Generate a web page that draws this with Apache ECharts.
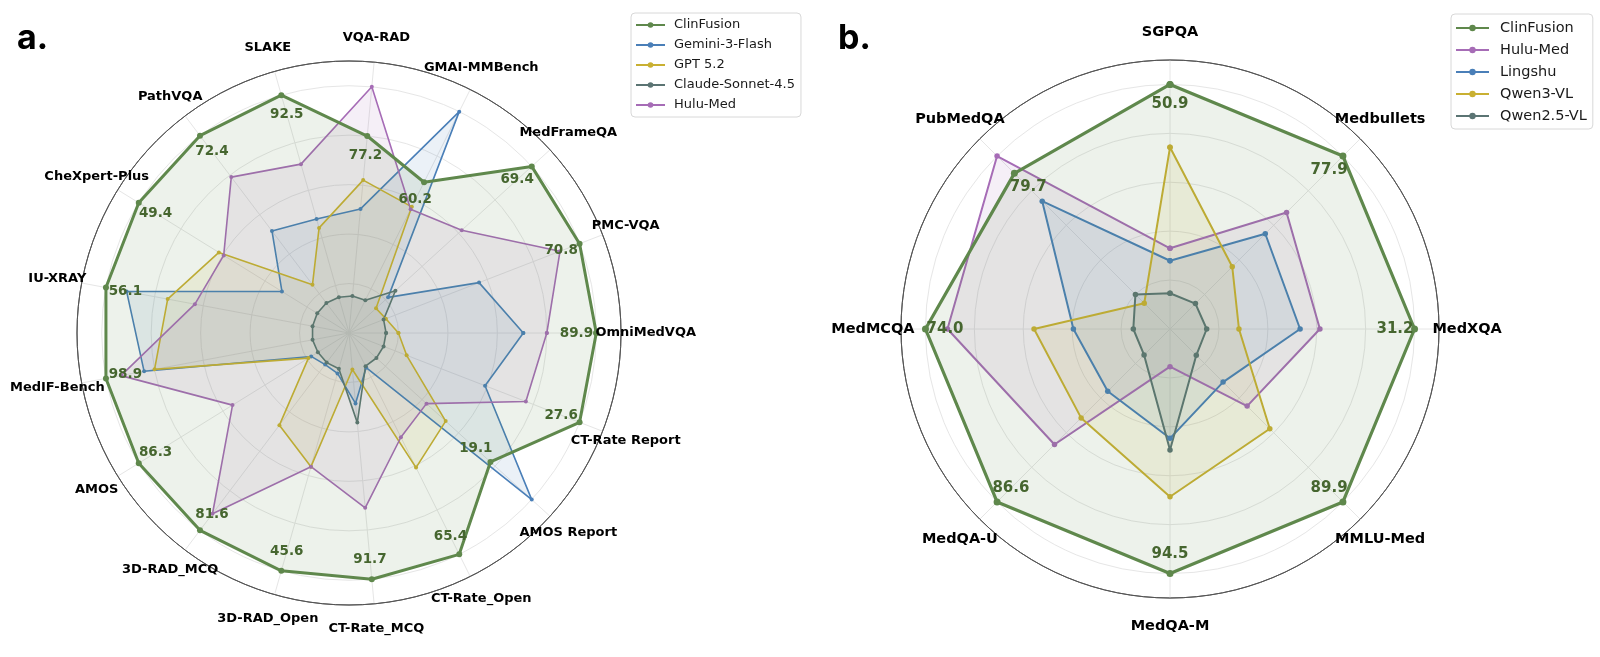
<!DOCTYPE html>
<html>
<head>
<meta charset="utf-8">
<script src="https://cdn.jsdelivr.net/npm/echarts@6/dist/echarts.min.js"></script>
<style>
html, body { margin: 0; padding: 0; background: #fff; }
#main { width: 1600px; height: 657px; }
</style>
</head>
<body>
<div id="main"></div>
<script>
// panel a: 17 benchmarks, listed counter-clockwise starting from the right-hand spoke
const leftCategories = ['OmniMedVQA', 'PMC-VQA', 'MedFrameQA', 'GMAI-MMBench', 'VQA-RAD', 'SLAKE', 'PathVQA',
  'CheXpert-Plus', 'IU-XRAY', 'MedIF-Bench', 'AMOS', '3D-RAD_MCQ', '3D-RAD_Open', 'CT-Rate_MCQ',
  'CT-Rate_Open', 'AMOS Report', 'CT-Rate Report'];
// normalised scores (best model = 1.0)
const leftClinFusion = [1.0, 1.0, 1.0, 0.681, 0.80, 1.0, 1.0, 1.0, 1.0, 1.0, 1.0, 1.0, 1.0, 1.0, 1.0, 0.774, 1.0];
const leftGemini = [0.705, 0.564, 0.214, 1.0, 0.504, 0.479, 0.517, 0.319, 0.915, 0.843, 0.18, 0.16, 0.17, 0.286, 0.156, 1.0, 0.59];
const leftGPT = [0.2, 0.16, 0.148, 0.57, 0.621, 0.442, 0.245, 0.619, 0.746, 0.80, 0.193, 0.467, 0.562, 0.148, 0.608, 0.529, 0.25];
const leftClaude = [0.15, 0.15, 0.254, 0.148, 0.15, 0.15, 0.152, 0.151, 0.15, 0.15, 0.148, 0.15, 0.15, 0.364, 0.15, 0.15, 0.15];
const leftHulu = [0.80, 0.915, 0.617, 0.559, 1.0, 0.71, 0.79, 0.596, 0.634, 0.938, 0.554, 0.916, 0.562, 0.71, 0.471, 0.424, 0.767];
// raw ClinFusion scores printed on the chart
const leftScoreLabels = ['89.9', '70.8', '69.4', '60.2', '77.2', '92.5', '72.4', '49.4', '56.1', '98.9',
  '86.3', '81.6', '45.6', '91.7', '65.4', '19.1', '27.6'];

// panel b: 8 benchmarks, counter-clockwise starting from the top spoke
const rightCategories = ['SGPQA', 'PubMedQA', 'MedMCQA', 'MedQA-U', 'MedQA-M', 'MMLU-Med', 'MedXQA', 'Medbullets'];
const rightClinFusion = [1.0, 0.90, 1.0, 1.0, 1.0, 1.0, 1.0, 1.0];
const rightHulu = [0.33, 1.0, 0.91, 0.668, 0.154, 0.446, 0.613, 0.674];
const rightLingshu = [0.279, 0.739, 0.395, 0.36, 0.447, 0.307, 0.532, 0.551];
const rightQwen3 = [0.743, 0.149, 0.556, 0.514, 0.686, 0.577, 0.282, 0.36];
const rightQwen25 = [0.146, 0.2, 0.15, 0.15, 0.495, 0.152, 0.15, 0.147];
const rightScoreLabels = ['50.9', '79.7', '74.0', '86.6', '94.5', '89.9', '31.2', '77.9'];

const GREEN = '#5f884c';
const BLUE = '#4a7fb8';
const YELLOW = '#c9b032';
const SLATE = '#5b7473';
const PURPLE = '#a66cb6';
const FONT = 'DejaVu Sans';

const leftStep = 360 / leftCategories.length;
const rightStep = 360 / rightCategories.length;

function closedPoints(vals, step) {
  const pts = vals.map((v, i) => [v, i * step]);
  pts.push([vals[0], 360]);
  return pts;
}

function radarLine(name, vals, step, polarIndex, color, width, size, z) {
  return {
    type: 'line', name: name, coordinateSystem: 'polar', polarIndex: polarIndex,
    data: closedPoints(vals, step),
    symbol: 'circle', symbolSize: size, showSymbol: true,
    lineStyle: { color: color, width: width },
    itemStyle: { color: color },
    areaStyle: { color: color, opacity: 0.11 },
    z: z, silent: true
  };
}

function textRing(items, step, polarIndex, style) {
  return {
    type: 'scatter', coordinateSystem: 'polar', polarIndex: polarIndex,
    data: items.map((it, i) => ({ name: it.text, value: [it.r, i * step] })),
    symbolSize: 1, itemStyle: { color: 'rgba(0,0,0,0)' },
    label: Object.assign({
      show: true, position: 'inside', formatter: p => p.name,
      textBorderWidth: 0, textShadowBlur: 0, opacity: 1
    }, style),
    clip: false, silent: true, z: 20
  };
}

const ringColors = ['#e6e6e6', '#e6e6e6', '#e6e6e6', '#e6e6e6', '#e6e6e6', '#e6e6e6', '#555'];

function angleAxis(polarIndex, step, start) {
  return {
    polarIndex: polarIndex, type: 'value', min: 0, max: 360, interval: step,
    startAngle: start, clockwise: false,
    axisLine: { lineStyle: { color: '#555', width: 1 } },
    axisTick: { show: false }, axisLabel: { show: false },
    splitLine: { lineStyle: { color: '#e6e6e6', width: 1 } }
  };
}

function radiusAxis(polarIndex) {
  return {
    polarIndex: polarIndex, type: 'value', min: 0, max: 1.1, interval: 0.2,
    axisLine: { show: false }, axisTick: { show: false }, axisLabel: { show: false },
    splitLine: { lineStyle: { color: ringColors, width: 1 } }
  };
}

const chart = echarts.init(document.getElementById('main'));

chart.setOption({
  animation: false,
  backgroundColor: '#fff',
  graphic: [
    { type: 'text', left: 17, top: 22, style: { text: 'a.', font: 'bold 34px Inter', fill: '#000' } },
    { type: 'text', left: 838, top: 22, style: { text: 'b.', font: 'bold 34px Inter', fill: '#000' } }
  ],
  polar: [
    { center: [349, 333], radius: 272 },
    { center: [1170, 329], radius: 269 }
  ],
  angleAxis: [angleAxis(0, leftStep, 0), angleAxis(1, rightStep, 90)],
  radiusAxis: [radiusAxis(0), radiusAxis(1)],
  legend: [
    {
      data: ['ClinFusion', 'Gemini-3-Flash', 'GPT 5.2', 'Claude-Sonnet-4.5', 'Hulu-Med'],
      orient: 'vertical', left: 631, top: 13, padding: [5, 6, 5, 4],
      itemGap: 6, itemWidth: 29, itemHeight: 7,
      textStyle: { fontFamily: FONT, fontSize: 13, color: '#1a1a1a', lineHeight: 14, padding: [0, 0, 0, 4] },
      borderColor: '#d8d8d8', borderWidth: 1, borderRadius: 4, backgroundColor: '#fff'
    },
    {
      data: ['ClinFusion', 'Hulu-Med', 'Lingshu', 'Qwen3-VL', 'Qwen2.5-VL'],
      orient: 'vertical', left: 1451, top: 14, padding: [6, 6, 5, 4],
      itemGap: 6, itemWidth: 33, itemHeight: 8,
      textStyle: { fontFamily: FONT, fontSize: 14.5, color: '#1a1a1a', lineHeight: 16, padding: [0, 0, 0, 6] },
      borderColor: '#d8d8d8', borderWidth: 1, borderRadius: 4, backgroundColor: '#fff'
    }
  ],
  series: [
    radarLine('Gemini-3-Flash', leftGemini, leftStep, 0, BLUE, 1.6, 4, 2),
    radarLine('GPT 5.2', leftGPT, leftStep, 0, YELLOW, 1.6, 4, 2),
    radarLine('Claude-Sonnet-4.5', leftClaude, leftStep, 0, SLATE, 1.6, 4, 2),
    radarLine('Hulu-Med', leftHulu, leftStep, 0, PURPLE, 1.6, 4, 2),
    radarLine('ClinFusion', leftClinFusion, leftStep, 0, GREEN, 3, 6, 3),
    textRing(leftCategories.map(c => ({ text: c, r: 1.2 })), leftStep, 0,
      { fontFamily: FONT, fontWeight: 'bold', fontSize: 13, color: '#000' }),
    textRing(leftScoreLabels.map((t, i) => ({ text: t, r: leftClinFusion[i] - 0.08 })), leftStep, 0,
      { fontFamily: FONT, fontWeight: 'bold', fontSize: 13.5, color: '#46662f' }),

    radarLine('Hulu-Med', rightHulu, rightStep, 1, PURPLE, 2, 5.5, 2),
    radarLine('Lingshu', rightLingshu, rightStep, 1, BLUE, 2, 5.5, 2),
    radarLine('Qwen3-VL', rightQwen3, rightStep, 1, YELLOW, 2, 5.5, 2),
    radarLine('Qwen2.5-VL', rightQwen25, rightStep, 1, SLATE, 2, 5.5, 2),
    radarLine('ClinFusion', rightClinFusion, rightStep, 1, GREEN, 3.2, 7, 3),
    textRing(rightCategories.map(c => ({ text: c, r: 1.215 })), rightStep, 1,
      { fontFamily: FONT, fontWeight: 'bold', fontSize: 14.5, color: '#000' }),
    textRing(rightScoreLabels.map((t, i) => ({ text: t, r: rightClinFusion[i] - 0.08 })), rightStep, 1,
      { fontFamily: FONT, fontWeight: 'bold', fontSize: 15, color: '#46662f' })
  ]
});
</script>
</body>
</html>
